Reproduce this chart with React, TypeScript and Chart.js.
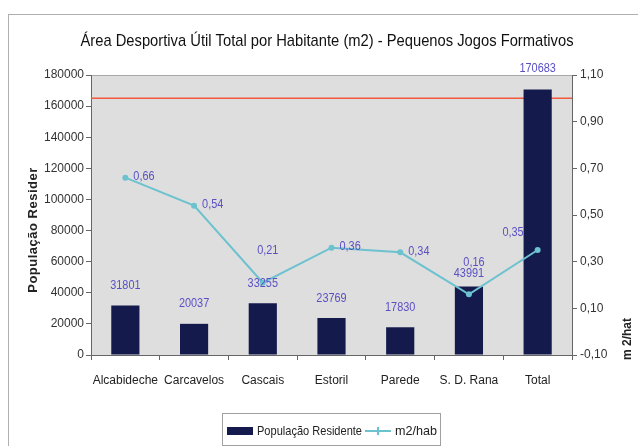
import React, { useEffect, useRef } from 'react';
import { Chart, registerables } from 'chart.js';

Chart.register(...registerables);

const SANS = "'Liberation Sans', Arial, sans-serif";

const chartTitle = 'Área Desportiva Útil Total por Habitante (m2) - Pequenos Jogos Formativos';
const categories = ['Alcabideche', 'Carcavelos', 'Cascais', 'Estoril', 'Parede', 'S. D. Rana', 'Total'];
const populacaoResidente = [31801, 20037, 33255, 23769, 17830, 43991, 170683];
const m2hab = [0.66, 0.54, 0.21, 0.36, 0.34, 0.16, 0.35];
const referenciaM2hab = 1.0;
const leftAxisTitle = 'População Resider';
const rightAxisTitle = 'm 2/hat';
const seriesNames = ['População Residente', 'm2/hab'];

const BAR_COLOR = '#141a4c';
const LINE_COLOR = '#6cc2cf';
const LABEL_COLOR = '#5a50c4';
const REF_COLOR = '#f2583a';
const NARROW_SCALE = 0.84;

const lineLabelPos = ['right', 'right', 'above', 'right', 'right', 'above', 'aboveLeft'];
const barLabelGap = [20, 20, 20, 20, 20, 13, 21];

const fmtComma = (v: number) => v.toFixed(2).replace('.', ',');

// draws text horizontally condensed (Arial Narrow look-alike)
function narrowText(ctx: CanvasRenderingContext2D, text: string, x: number, y: number, align: 'left' | 'center' | 'right', scale = NARROW_SCALE) {
  ctx.save();
  ctx.translate(x, y);
  ctx.scale(scale, 1);
  ctx.textAlign = align;
  ctx.fillText(text, 0, 0);
  ctx.restore();
}

const decorPlugin = {
  id: 'decor',
  beforeDraw(chart: any) {
    const { ctx, chartArea: a, width, height } = chart;
    ctx.save();
    ctx.fillStyle = '#ffffff';
    ctx.fillRect(0, 0, width, height);
    // outer frame
    ctx.strokeStyle = '#b0b0b0';
    ctx.lineWidth = 1;
    ctx.strokeRect(8.5, 14.5, width + 10, height + 10);
    // title
    ctx.fillStyle = '#111';
    ctx.font = `17px ${SANS}`;
    ctx.textBaseline = 'middle';
    const w = ctx.measureText(chartTitle).width;
    narrowText(ctx, chartTitle, 327, 41, 'center', 493 / w);
    // plot background
    ctx.fillStyle = '#dedede';
    ctx.fillRect(a.left, a.top, a.right - a.left, a.bottom - a.top);
    ctx.strokeStyle = '#a8a8a8';
    ctx.beginPath();
    ctx.moveTo(a.left, a.top + 0.5);
    ctx.lineTo(a.right, a.top + 0.5);
    ctx.stroke();
    ctx.restore();
  },
  beforeDatasetsDraw(chart: any) {
    const { ctx, chartArea: a, scales } = chart;
    const y = scales.y1.getPixelForValue(referenciaM2hab);
    ctx.save();
    ctx.strokeStyle = REF_COLOR;
    ctx.lineWidth = 1.5;
    ctx.beginPath();
    ctx.moveTo(a.left, y);
    ctx.lineTo(a.right, y);
    ctx.stroke();
    ctx.restore();
  },
  afterDatasetsDraw(chart: any) {
    const { ctx } = chart;
    ctx.save();
    ctx.fillStyle = LABEL_COLOR;
    ctx.font = `13px ${SANS}`;
    ctx.textBaseline = 'middle';
    const barMeta = chart.getDatasetMeta(0);
    barMeta.data.forEach((el: any, i: number) => {
      narrowText(ctx, String(populacaoResidente[i]), el.x, el.y - barLabelGap[i], 'center');
    });
    const lineMeta = chart.getDatasetMeta(1);
    lineMeta.data.forEach((el: any, i: number) => {
      const t = fmtComma(m2hab[i]);
      const p = lineLabelPos[i];
      if (p === 'right') {
        narrowText(ctx, t, el.x + 8, el.y - 1, 'left');
      } else if (p === 'above') {
        narrowText(ctx, t, el.x + 5, el.y - 32, 'center');
      } else {
        narrowText(ctx, t, el.x - 14, el.y - 18, 'right');
      }
    });
    ctx.restore();
  },
  afterDraw(chart: any) {
    const { ctx } = chart;
    ctx.save();
    // axis titles
    ctx.fillStyle = '#222';
    ctx.textAlign = 'center';
    ctx.textBaseline = 'middle';
    ctx.font = `bold 13px ${SANS}`;
    ctx.save();
    ctx.translate(33, 230);
    ctx.rotate(-Math.PI / 2);
    (ctx as any).letterSpacing = '0.5px';
    ctx.fillText(leftAxisTitle, 0, 0);
    ctx.restore();
    ctx.save();
    ctx.font = `bold 12px ${SANS}`;
    ctx.translate(628, 339);
    ctx.rotate(-Math.PI / 2);
    ctx.fillText(rightAxisTitle, 0, 0);
    ctx.restore();
    // legend
    const lx = 222, ly = 413, lw = 218, lh = 32;
    ctx.fillStyle = '#ffffff';
    ctx.fillRect(lx, ly, lw, lh);
    ctx.strokeStyle = '#a0a0a0';
    ctx.lineWidth = 1;
    ctx.strokeRect(lx + 0.5, ly + 0.5, lw, lh);
    const cy = ly + 18;
    ctx.fillStyle = BAR_COLOR;
    ctx.fillRect(227, cy - 4, 26, 8);
    ctx.fillStyle = '#222';
    ctx.font = `13px ${SANS}`;
    ctx.textBaseline = 'middle';
    const w0 = ctx.measureText(seriesNames[0]).width;
    narrowText(ctx, seriesNames[0], 257, cy, 'left', 105 / w0);
    ctx.strokeStyle = LINE_COLOR;
    ctx.lineWidth = 2;
    ctx.beginPath();
    ctx.moveTo(365, cy);
    ctx.lineTo(391, cy);
    ctx.moveTo(378, cy - 4);
    ctx.lineTo(378, cy + 4);
    ctx.stroke();
    const w1 = ctx.measureText(seriesNames[1]).width;
    narrowText(ctx, seriesNames[1], 395, cy, 'left', 42 / w1);
    ctx.restore();
  },
};

export default function App() {
  const ref = useRef<HTMLCanvasElement>(null);
  useEffect(() => {
    if (!ref.current) return;
    const tickFont = { family: SANS, size: 12 };
    const chart = new Chart(ref.current, {
      type: 'bar',
      data: {
        labels: categories,
        datasets: [
          {
            type: 'bar',
            label: seriesNames[0],
            data: populacaoResidente,
            backgroundColor: BAR_COLOR,
            barPercentage: 0.41,
            categoryPercentage: 1,
            yAxisID: 'y',
            order: 1,
          },
          {
            type: 'line',
            label: seriesNames[1],
            data: m2hab,
            borderColor: LINE_COLOR,
            backgroundColor: LINE_COLOR,
            borderWidth: 2,
            pointRadius: 3,
            pointBackgroundColor: LINE_COLOR,
            pointBorderWidth: 0,
            tension: 0,
            yAxisID: 'y1',
            order: 0,
          },
        ] as any,
      },
      options: {
        responsive: false,
        animation: false,
        devicePixelRatio: 1,
        layout: { padding: { top: 75, bottom: 51, left: 0, right: 0 } },
        plugins: {
          legend: { display: false },
          tooltip: { enabled: false },
          title: { display: false },
        },
        scales: {
          x: {
            offset: true,
            grid: { offset: true, drawOnChartArea: false, drawTicks: true, tickLength: 5, color: '#666' },
            border: { color: '#666' },
            ticks: { font: { family: SANS, size: 12 }, color: '#222', padding: 13, maxRotation: 0, autoSkip: false },
            afterFit: (s: any) => { s.height = 40; },
          },
          y: {
            position: 'left',
            min: 0,
            max: 180000,
            ticks: { stepSize: 20000, font: tickFont, color: '#333', padding: 2, callback: (v: any) => String(v) },
            grid: { drawOnChartArea: false, tickLength: 5, color: '#666' },
            border: { color: '#666' },
            afterFit: (s: any) => { s.width = 91; },
          },
          y1: {
            position: 'right',
            min: -0.1,
            max: 1.1,
            ticks: { stepSize: 0.2, font: tickFont, color: '#333', padding: 3, callback: (v: any) => fmtComma(Number(v)) },
            grid: { drawOnChartArea: false, tickLength: 5, color: '#666' },
            border: { color: '#666' },
            afterFit: (s: any) => { s.width = 66; },
          },
        },
      } as any,
      plugins: [decorPlugin],
    });
    return () => chart.destroy();
  }, []);
  return (
    <div style={{ position: 'absolute', left: 0, top: 0, width: 638, height: 446 }}>
      <canvas ref={ref} width={638} height={446} style={{ width: 638, height: 446, display: 'block' }} />
    </div>
  );
}
